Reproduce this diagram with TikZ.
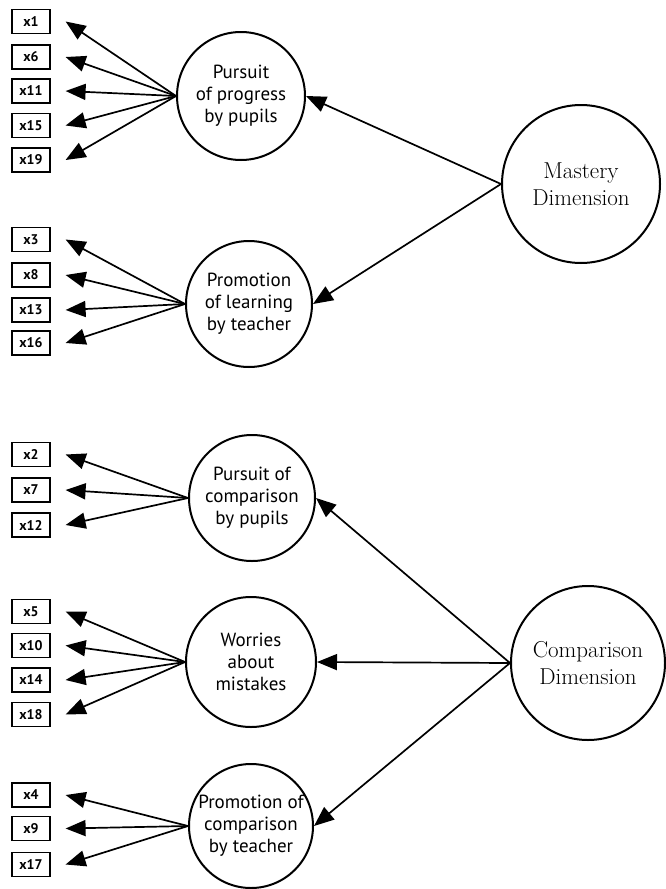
\documentclass[tikz,border=0pt]{standalone}
\usepackage{fontspec}
\newfontfamily\labelfont{PT Sans}
\usetikzlibrary{arrows.meta}

\tikzset{
  item/.style={draw, line width=1.2pt, minimum width=38pt, minimum height=24pt,
    inner sep=0pt, font=\labelfont\bfseries\fontsize{14}{14}\selectfont},
  factor/.style={draw, circle, line width=2pt, inner sep=0pt, align=center,
    font=\labelfont\fontsize{19}{22}\selectfont},
  dimension/.style={draw, circle, line width=2pt, inner sep=0pt, align=center,
    font=\fontsize{23}{27}\selectfont},
  load/.style={line width=1.7pt, -{Triangle[length=20pt,width=16pt]}}
}

\begin{document}
\begin{tikzpicture}[x={(1pt,0pt)}, y={(0pt,-1pt)}]
      \useasboundingbox (0,0) rectangle (666,889);

      % Factors
      \node[factor, minimum size=128pt] (pp) at (241,96) {Pursuit\\of progress\\by pupils};
      \node[factor, minimum size=126pt] (pl) at (249,304) {Promotion\\of learning\\by teacher};
      \node[factor, minimum size=126pt] (pc) at (252,498) {Pursuit of\\comparison\\by pupils};
      \node[factor, minimum size=130pt] (wm) at (251,662) {Worries\\about\\mistakes};
      \node[factor, minimum size=124pt] (pt) at (251,826) {Promotion of\\comparison\\by teacher};

      % Dimensions
      \node[dimension, minimum size=158pt] (md) at (581,184) {Mastery\\Dimension};
      \node[dimension, minimum size=154pt] (cd) at (588,663) {Comparison\\Dimension};

      % Items, one box per item
      \foreach \name/\y in {x1/21.5, x6/57, x11/91, x15/125.5, x19/160,
                            x3/239.5, x8/275, x13/310, x16/343,
                            x2/454.5, x7/490, x12/525,
                            x5/611.5, x10/645.5, x14/680, x18/714.5,
                            x4/795, x9/828.5, x17/864.5} {
        \node[item] (\name) at (31,\y) {\name};
      }

      % Loadings of the items
      \foreach \name in {x1,x6,x11,x15,x19} {
        \draw[load] (pp.west) -- ([xshift=15pt]\name.east);
      }
      \foreach \name in {x3,x8,x13,x16} {
        \draw[load] (pl.west) -- ([xshift=15pt]\name.east);
      }
      \foreach \name in {x2,x7,x12} {
        \draw[load] (pc.west) -- ([xshift=15pt]\name.east);
      }
      \foreach \name in {x5,x10,x14,x18} {
        \draw[load] (wm.west) -- ([xshift=15pt]\name.east);
      }
      \foreach \name in {x4,x9,x17} {
        \draw[load] (pt.west) -- ([xshift=15pt]\name.east);
      }

      % Loadings of the factors
      \foreach \f in {pp,pl} {
        \draw[load] (md.west) -- (\f.east);
      }
      \foreach \f in {pc,wm,pt} {
        \draw[load] (cd.west) -- (\f.east);
      }
    \end{tikzpicture}
\end{document}
